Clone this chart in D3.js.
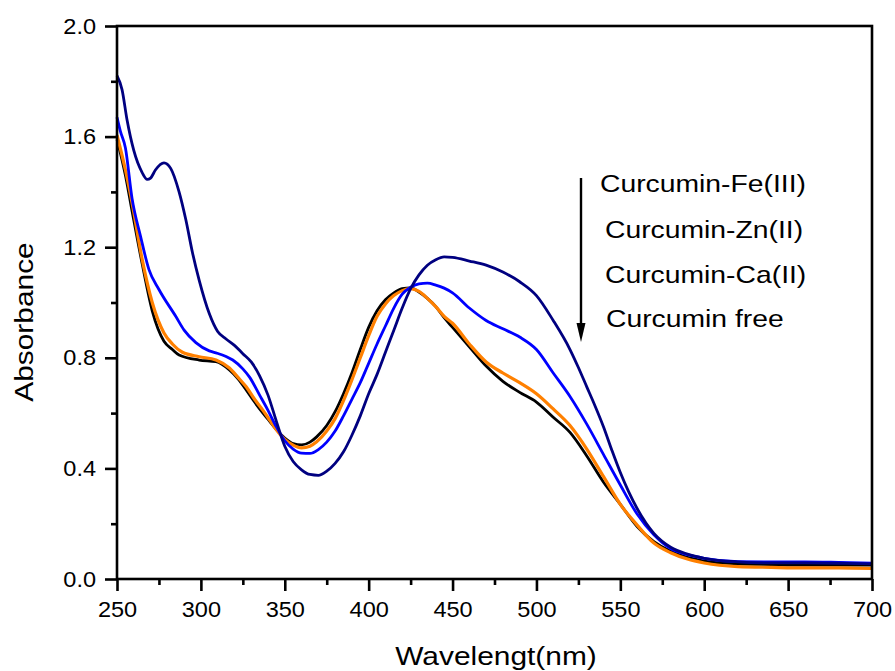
<!DOCTYPE html>
<html>
<head>
<meta charset="utf-8">
<script src="https://cdn.jsdelivr.net/npm/d3@7/dist/d3.min.js"></script>
<style>
  html, body { margin: 0; padding: 0; background: #fff; }
  svg { display: block; }
  text { font-family: "Liberation Sans", Arial, sans-serif; fill: #000; }
</style>
</head>
<body>
<svg id="chart" width="895" height="671"></svg>
<script>
// ---------- data ----------
const wlFe  = [250,253,256,260,265,268,270,273,278,282,287,291,295,299,305,310,315,320,325,330,335,340,345,350,355,360,365,370,375,380,385,390,395,400,405,410,415,420,425,430,435,440,445,450,460,470,480,490,500,510,520,525,530,535,540,545,550,555,560,570,580,590,600,620,640,660,680,700];
const absFe = [1.82,1.77,1.66,1.55,1.47,1.445,1.45,1.48,1.505,1.485,1.40,1.30,1.18,1.08,0.96,0.895,0.868,0.845,0.815,0.785,0.735,0.665,0.57,0.48,0.425,0.395,0.378,0.375,0.39,0.418,0.46,0.52,0.59,0.67,0.74,0.82,0.90,0.98,1.05,1.10,1.135,1.155,1.165,1.163,1.15,1.135,1.11,1.075,1.025,0.935,0.83,0.765,0.695,0.625,0.55,0.465,0.385,0.315,0.255,0.165,0.115,0.09,0.075,0.062,0.058,0.058,0.057,0.055];

const wlZn  = [250,252,255,259,264,269,275,285,290,297,305,309,315,319,325,329,335,340,345,350,355,360,365,370,375,380,385,390,395,400,405,410,415,420,425,430,435,440,445,450,460,470,480,490,500,510,520,530,540,550,560,570,580,590,600,620,640,660,680,700];
const absZn = [1.67,1.62,1.56,1.375,1.24,1.12,1.047,0.95,0.90,0.855,0.825,0.818,0.805,0.792,0.76,0.73,0.665,0.61,0.55,0.50,0.47,0.455,0.454,0.468,0.495,0.535,0.59,0.65,0.71,0.78,0.85,0.915,0.98,1.03,1.055,1.067,1.07,1.063,1.052,1.035,0.98,0.935,0.905,0.875,0.83,0.745,0.66,0.56,0.45,0.34,0.235,0.16,0.11,0.088,0.075,0.063,0.062,0.062,0.06,0.057];

const wlCa  = [250,255,259,265,271,278,283,289,299,309,317,322,327,332,337,341,345,350,355,360,365,369,375,380,385,390,395,400,405,410,415,420,425,430,435,440,445,450,460,470,480,490,500,510,520,530,540,550,560,570,580,590,600,620,640,660,680,700];
const absCa = [1.605,1.48,1.36,1.156,1.0,0.89,0.85,0.82,0.804,0.792,0.763,0.73,0.695,0.65,0.61,0.575,0.54,0.505,0.484,0.474,0.48,0.496,0.535,0.58,0.645,0.72,0.80,0.88,0.95,0.995,1.025,1.043,1.05,1.04,1.015,0.985,0.95,0.925,0.85,0.785,0.745,0.71,0.67,0.615,0.555,0.47,0.37,0.27,0.195,0.13,0.095,0.072,0.058,0.045,0.042,0.04,0.04,0.038];

const wlFree  = [250,255,259,265,271,278,283,287,299,309,317,322,327,332,337,341,345,350,355,360,365,369,375,380,385,390,395,400,405,410,415,420,425,430,435,440,445,450,460,470,480,490,500,510,520,530,540,550,560,570,580,590,600,620,640,660,680,700];
const absFree = [1.59,1.46,1.33,1.14,0.97,0.86,0.83,0.81,0.792,0.786,0.756,0.725,0.684,0.64,0.60,0.57,0.54,0.51,0.49,0.485,0.495,0.514,0.555,0.605,0.67,0.745,0.83,0.91,0.97,1.01,1.035,1.05,1.053,1.038,1.015,0.985,0.945,0.91,0.84,0.77,0.715,0.675,0.64,0.585,0.53,0.445,0.35,0.27,0.19,0.135,0.1,0.078,0.065,0.055,0.052,0.05,0.05,0.05];

const seriesNames  = ["Curcumin free","Curcumin-Ca(II)","Curcumin-Zn(II)","Curcumin-Fe(III)"];
const seriesColors = ["#000000","#ff8000","#0000ff","#000080"];
const legendOrder  = ["Curcumin-Fe(III)","Curcumin-Zn(II)","Curcumin-Ca(II)","Curcumin free"];

const xMajorTicks = [250,300,350,400,450,500,550,600,650,700];
const yMajorTicks = [0.0,0.4,0.8,1.2,1.6,2.0];
const xTitle = "Wavelengt(nm)";
const yTitle = "Absorbance";

// ---------- layout ----------
const svg = d3.select("#chart");
const L = 117, R = 872, T = 26, B = 579;
const x = d3.scaleLinear().domain([250,700]).range([L,R]);
const y = d3.scaleLinear().domain([0,2]).range([B,T]);

const series = [
  {wl: wlFree, a: absFree, w: 2.8},
  {wl: wlCa,   a: absCa,   w: 3.2},
  {wl: wlZn,   a: absZn,   w: 2.8},
  {wl: wlFe,   a: absFe,   w: 2.8}
];

const line = d3.line().x(d => x(d[0])).y(d => y(d[1])).curve(d3.curveMonotoneX);

const plot = svg.append("g");
series.forEach((s,i) => {
  const pts = s.wl.map((w,j) => [w, s.a[j]]);
  plot.append("path")
    .attr("d", line(pts))
    .attr("fill","none")
    .attr("stroke", seriesColors[i])
    .attr("stroke-width", s.w)
    .attr("stroke-linejoin","round");
});

// frame
svg.append("rect").attr("x",L).attr("y",T).attr("width",R-L).attr("height",B-T)
  .attr("fill","none").attr("stroke","#000").attr("stroke-width",2.6);

const TXT = 1.07;  // tick label stretch
const TX  = 1.15;  // title stretch
const tickFont = 22;

// x axis
const xMinor = d3.range(275,700,50);
const gx = svg.append("g").attr("transform",`translate(0,${B})`);
gx.call(d3.axisBottom(x).tickValues(xMinor).tickSize(6).tickFormat(""));
gx.selectAll(".tick line").attr("stroke-width",2.6);
const gx2 = svg.append("g").attr("transform",`translate(0,${B})`);
gx2.call(d3.axisBottom(x).tickValues(xMajorTicks).tickSize(12).tickPadding(10).tickFormat(d3.format("d")));
gx2.selectAll(".tick line").attr("stroke-width",2.6);
gx2.selectAll(".tick text").attr("font-size",tickFont)
  .attr("font-family","Liberation Sans, Arial, sans-serif")
  .attr("transform",`scale(${TXT},1)`);
svg.selectAll(".domain").remove();

// y axis
const yMinor = [0.2,0.6,1.0,1.4,1.8];
const gy = svg.append("g").attr("transform",`translate(${L},0)`);
gy.call(d3.axisLeft(y).tickValues(yMinor).tickSize(6).tickFormat(""));
gy.selectAll(".tick line").attr("stroke-width",2.6);
const gy2 = svg.append("g").attr("transform",`translate(${L},0)`);
gy2.call(d3.axisLeft(y).tickValues(yMajorTicks).tickSize(12).tickPadding(9).tickFormat(d3.format(".1f")));
gy2.selectAll(".tick line").attr("stroke-width",2.6);
gy2.selectAll(".tick text").attr("font-size",tickFont)
  .attr("font-family","Liberation Sans, Arial, sans-serif")
  .attr("transform",`scale(${TXT},1)`).attr("x",-21/TXT);
svg.selectAll(".domain").remove();

// axis titles
svg.append("text").attr("transform",`translate(496,665) scale(${TX},1)`)
  .attr("text-anchor","middle").attr("font-size",26).text(xTitle);
svg.append("text").attr("transform",`translate(33,322) rotate(-90) scale(${TX},1)`)
  .attr("text-anchor","middle").attr("font-size",26).text(yTitle);

// legend text
const legX = [600,605,605,606];
const legY = [192,238,283,327];
const TL = 1.18;
legendOrder.forEach((t,i) => {
  svg.append("text").attr("transform",`translate(${legX[i]},${legY[i]}) scale(${TL},1)`)
    .attr("font-size",24).text(t);
});

// arrow
const ax = 581;
svg.append("line").attr("x1",ax).attr("x2",ax).attr("y1",178).attr("y2",328)
  .attr("stroke","#000").attr("stroke-width",2.4);
svg.append("path").attr("d",`M${ax-4.5},${323} L${ax+4.5},${323} L${ax},${342} Z`).attr("fill","#000");
</script>
</body>
</html>
